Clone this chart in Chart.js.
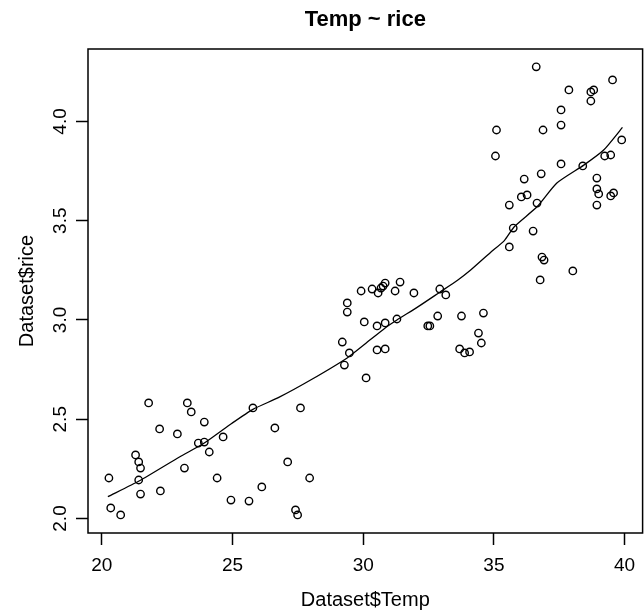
<!DOCTYPE html>
<html>
<head>
<meta charset="utf-8">
<title>Temp ~ rice</title>
<script src="https://cdn.jsdelivr.net/npm/chart.js@4.4.1/dist/chart.umd.min.js"></script>
<style>
  html, body { margin: 0; padding: 0; background: #fff; overflow: hidden; }
  canvas { display: block; }
</style>
</head>
<body>
<canvas id="riceChart" width="648" height="615"></canvas>
<script>
// observed points: Dataset$Temp vs Dataset$rice
let temp = [20.27,20.34,20.72,21.29,21.41,21.48,21.41,21.48,21.79,22.21,
  22.24,22.89,23.16,23.27,23.42,23.69,23.92,23.92,24.11,24.41,
  24.64,24.94,25.63,25.78,26.12,26.62,27.11,27.41,27.49,27.60,
  27.95,29.20,29.28,29.39,29.39,29.47,29.92,30.04,30.11,30.34,
  30.53,30.53,30.57,30.68,30.76,30.84,30.84,30.84,31.22,31.29,
  31.41,31.94,32.47,32.55,32.85,32.93,33.16,33.69,33.76,33.88,
  34.07,34.41,34.52,34.60,35.06,35.10,35.59,35.59,35.74,36.05,
  36.16,36.27,36.50,36.62,36.65,36.77,36.81,36.84,36.88,36.92,
  37.57,37.57,37.57,37.87,38.02,38.40,38.71,38.82,38.71,38.94,
  38.94,39.01,38.94,39.24,39.47,39.47,39.58,39.54,39.89];
let rice = [2.204,2.053,2.018,2.320,2.285,2.254,2.194,2.123,2.582,2.451,
  2.139,2.426,2.254,2.582,2.537,2.380,2.486,2.385,2.335,2.204,
  2.411,2.093,2.088,2.557,2.159,2.456,2.285,2.043,2.018,2.557,
  2.204,2.889,2.773,3.086,3.040,2.834,3.146,2.990,2.708,3.156,
  2.970,2.849,3.136,3.161,3.171,3.186,2.985,2.854,3.146,3.005,
  3.191,3.136,2.970,2.970,3.020,3.156,3.126,2.854,3.020,2.834,
  2.839,2.934,2.884,3.035,3.826,3.957,3.579,3.368,3.463,3.620,
  3.710,3.630,3.448,4.275,3.589,3.202,3.736,3.317,3.957,3.302,
  4.058,3.982,3.786,4.159,3.247,3.776,4.149,4.159,4.103,3.715,
  3.660,3.635,3.579,3.826,3.831,3.625,3.640,4.209,3.907];

// smoother line
let smoothTemp = [20.23,21.44,22.97,23.92,24.98,25.78,26.77,28.02,29.40,30.08,
  30.84,31.29,32.09,32.93,33.61,34.10,34.87,35.40,35.78,36.65,
  37.41,38.44,39.20,39.92];
let smoothRice = [2.11,2.19,2.31,2.38,2.48,2.55,2.61,2.70,2.81,2.88,
  2.96,3.00,3.066,3.14,3.20,3.25,3.34,3.40,3.47,3.57,
  3.69,3.78,3.856,3.97];

let xTicks = [20,25,30,35,40];
let yTicks = [2.0,2.5,3.0,3.5,4.0];

let points = temp.map((t,i) => ({x:t, y:rice[i]}));
let smooth = smoothTemp.map((t,i) => ({x:t, y:smoothRice[i]}));

let fontFamily = "'Liberation Sans', Arial, Helvetica, sans-serif";

// plot frame like R's box()
let boxPlugin = {
  id: 'box',
  afterDraw(chart) {
    let a = chart.chartArea, ctx = chart.ctx;
    ctx.save();
    ctx.strokeStyle = '#000';
    ctx.lineWidth = 1.5;
    ctx.strokeRect(a.left, a.top, a.right - a.left, a.bottom - a.top);
    ctx.restore();
  }
};

let ctx1 = document.getElementById('riceChart').getContext('2d');
let chart1 = new Chart(ctx1, {
  type: 'scatter',
  data: {
    datasets: [{
      label: 'rice',
      data: points,
      pointStyle: 'circle',
      pointRadius: 3.7,
      pointBorderWidth: 1.4,
      pointBorderColor: '#000',
      pointBackgroundColor: 'rgba(0,0,0,0)',
      showLine: false
    }, {
      label: 'smooth',
      data: smooth,
      showLine: true,
      borderColor: '#000',
      borderWidth: 1.3,
      pointRadius: 0,
      tension: 0.2,
      fill: false
    }]
  },
  options: {
    responsive: false,
    animation: false,
    layout: { padding: { left: 0, right: 2, top: 0, bottom: 0 } },
    plugins: {
      legend: { display: false },
      tooltip: { enabled: false },
      title: {
        display: true,
        text: 'Temp ~ rice',
        fullSize: false,
        color: '#000',
        font: { family: fontFamily, size: 22, weight: 'bold' },
        padding: { top: 7, bottom: 15.6 }
      }
    },
    scales: {
      x: {
        type: 'linear',
        min: 19.47,
        max: 40.69,
        afterBuildTicks: s => { s.ticks = xTicks.map(v => ({value: v})); },
        afterFit: s => { s.height = 82; },
        border: { display: false },
        grid: { drawOnChartArea: false, drawTicks: true, tickLength: 12, tickColor: '#000', tickWidth: 1.5 },
        ticks: {
          color: '#000',
          padding: 9,
          maxRotation: 0,
          font: { family: fontFamily, size: 19 },
          callback: v => String(v)
        },
        title: {
          display: true,
          text: 'Dataset$Temp',
          color: '#000',
          font: { family: fontFamily, size: 20 },
          padding: { top: 8, bottom: 3 }
        }
      },
      y: {
        type: 'linear',
        min: 1.927,
        max: 4.365,
        afterBuildTicks: s => { s.ticks = yTicks.map(v => ({value: v})); },
        afterFit: s => { s.width = 88; },
        border: { display: false },
        grid: { drawOnChartArea: false, drawTicks: true, tickLength: 12, tickColor: '#000', tickWidth: 1.5 },
        ticks: {
          color: '#000',
          padding: 2,
          minRotation: 90,
          maxRotation: 90,
          crossAlign: 'center',
          font: { family: fontFamily, size: 19 },
          callback: v => v.toFixed(1)
        },
        title: {
          display: true,
          text: 'Dataset$rice',
          color: '#000',
          font: { family: fontFamily, size: 20 },
          padding: { top: 15, bottom: 0 }
        }
      }
    }
  },
  plugins: [boxPlugin]
});
</script>
</body>
</html>
